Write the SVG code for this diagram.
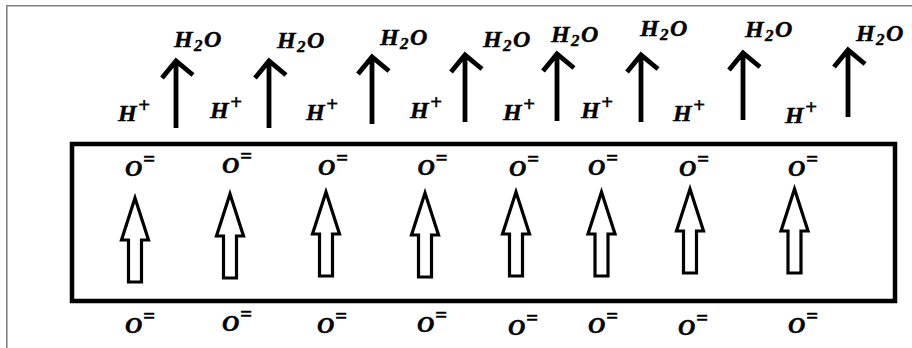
<svg xmlns="http://www.w3.org/2000/svg" xmlns:xlink="http://www.w3.org/1999/xlink" width="912" height="348" viewBox="0 0 912 348">
<style>
  .t { font-family: "Liberation Serif", "DejaVu Serif", serif; font-weight: bold; font-style: italic; font-size: 24px; fill: #000; stroke: #000; stroke-width: 0.4; }
  .sub { font-size: 17px; }
  .sup { font-size: 21px; }
  .frame { fill: none; stroke: #808080; stroke-width: 1.6; }
  .membrane { fill: none; stroke: #000; stroke-width: 4.5; }
  .hollow { fill: #fff; stroke: #000; stroke-width: 3.2; stroke-linejoin: miter; }
  .solid { fill: none; stroke: #000; stroke-width: 4.8; stroke-linecap: butt; stroke-linejoin: miter; }
</style>
<defs>
  <path id="hollowArrow" class="hollow" d="M0,0 L13.5,42 L6.5,42 L6.5,84 L-6.5,84 L-6.5,42 L-13.5,42 Z"/>
  <path id="solidArrow" class="solid" d="M0,0 L0,67 M-14,17 L0,0 L17,14"/>
</defs>
<rect width="912" height="348" fill="#fff"/>
<g id="frame">
  <polyline class="frame" points="6.8,348 6.8,5.8 912,5.8"/>
</g>
<g id="membrane">
  <rect class="membrane" x="72" y="144" width="823" height="157"/>
</g>
<g id="connectors">
  <use xlink:href="#hollowArrow" x="135" y="198"/>
  <use xlink:href="#hollowArrow" x="230" y="194"/>
  <use xlink:href="#hollowArrow" x="326" y="192"/>
  <use xlink:href="#hollowArrow" x="425" y="193"/>
  <use xlink:href="#hollowArrow" x="516" y="192"/>
  <use xlink:href="#hollowArrow" x="601.5" y="192"/>
  <use xlink:href="#hollowArrow" x="690" y="189"/>
  <use xlink:href="#hollowArrow" x="794.5" y="189"/>
  <use xlink:href="#solidArrow" x="176" y="61"/>
  <use xlink:href="#solidArrow" x="269" y="61"/>
  <use xlink:href="#solidArrow" x="372" y="57"/>
  <use xlink:href="#solidArrow" x="465" y="55"/>
  <use xlink:href="#solidArrow" x="557" y="54"/>
  <use xlink:href="#solidArrow" x="641" y="55"/>
  <use xlink:href="#solidArrow" x="743" y="53"/>
  <use xlink:href="#solidArrow" x="848" y="50"/>
</g>
<g id="water">
  <text class="t" x="174" y="47">H<tspan class="sub" x="194" dy="4">2</tspan><tspan x="204" dy="-4">O</tspan></text>
  <text class="t" x="277" y="48">H<tspan class="sub" x="297" dy="4">2</tspan><tspan x="307" dy="-4">O</tspan></text>
  <text class="t" x="380" y="45">H<tspan class="sub" x="400" dy="4">2</tspan><tspan x="410" dy="-4">O</tspan></text>
  <text class="t" x="483" y="47">H<tspan class="sub" x="503" dy="4">2</tspan><tspan x="513" dy="-4">O</tspan></text>
  <text class="t" x="551" y="42">H<tspan class="sub" x="571" dy="4">2</tspan><tspan x="581" dy="-4">O</tspan></text>
  <text class="t" x="640" y="36">H<tspan class="sub" x="660" dy="4">2</tspan><tspan x="670" dy="-4">O</tspan></text>
  <text class="t" x="745" y="37">H<tspan class="sub" x="765" dy="4">2</tspan><tspan x="775" dy="-4">O</tspan></text>
  <text class="t" x="856" y="41">H<tspan class="sub" x="876" dy="4">2</tspan><tspan x="886" dy="-4">O</tspan></text>
</g>
<g id="protons">
  <text class="t" x="118" y="121">H<tspan class="sup" x="138" dy="-9">+</tspan></text>
  <text class="t" x="210" y="118">H<tspan class="sup" x="230" dy="-9">+</tspan></text>
  <text class="t" x="306" y="120">H<tspan class="sup" x="326" dy="-9">+</tspan></text>
  <text class="t" x="410" y="118">H<tspan class="sup" x="430" dy="-9">+</tspan></text>
  <text class="t" x="503" y="120">H<tspan class="sup" x="523" dy="-9">+</tspan></text>
  <text class="t" x="581" y="118">H<tspan class="sup" x="601" dy="-9">+</tspan></text>
  <text class="t" x="673" y="121">H<tspan class="sup" x="693" dy="-9">+</tspan></text>
  <text class="t" x="785" y="123">H<tspan class="sup" x="805" dy="-9">+</tspan></text>
</g>
<g id="oxide-top">
  <text class="t" x="125" y="176">O<tspan class="sup" x="143" dy="-10">=</tspan></text>
  <text class="t" x="222" y="173">O<tspan class="sup" x="240" dy="-10">=</tspan></text>
  <text class="t" x="318" y="175">O<tspan class="sup" x="336" dy="-10">=</tspan></text>
  <text class="t" x="417.5" y="175">O<tspan class="sup" x="435.5" dy="-10">=</tspan></text>
  <text class="t" x="509" y="176">O<tspan class="sup" x="527" dy="-10">=</tspan></text>
  <text class="t" x="588" y="175">O<tspan class="sup" x="606" dy="-10">=</tspan></text>
  <text class="t" x="679" y="176">O<tspan class="sup" x="697" dy="-10">=</tspan></text>
  <text class="t" x="788" y="176">O<tspan class="sup" x="806" dy="-10">=</tspan></text>
</g>
<g id="oxide-bottom">
  <text class="t" x="125" y="333">O<tspan class="sup" x="143" dy="-10">=</tspan></text>
  <text class="t" x="222" y="331">O<tspan class="sup" x="240" dy="-10">=</tspan></text>
  <text class="t" x="317" y="333">O<tspan class="sup" x="335" dy="-10">=</tspan></text>
  <text class="t" x="417" y="332">O<tspan class="sup" x="435" dy="-10">=</tspan></text>
  <text class="t" x="508" y="335">O<tspan class="sup" x="526" dy="-10">=</tspan></text>
  <text class="t" x="588" y="333">O<tspan class="sup" x="606" dy="-10">=</tspan></text>
  <text class="t" x="678" y="335">O<tspan class="sup" x="696" dy="-10">=</tspan></text>
  <text class="t" x="788" y="333">O<tspan class="sup" x="806" dy="-10">=</tspan></text>
</g>
</svg>
